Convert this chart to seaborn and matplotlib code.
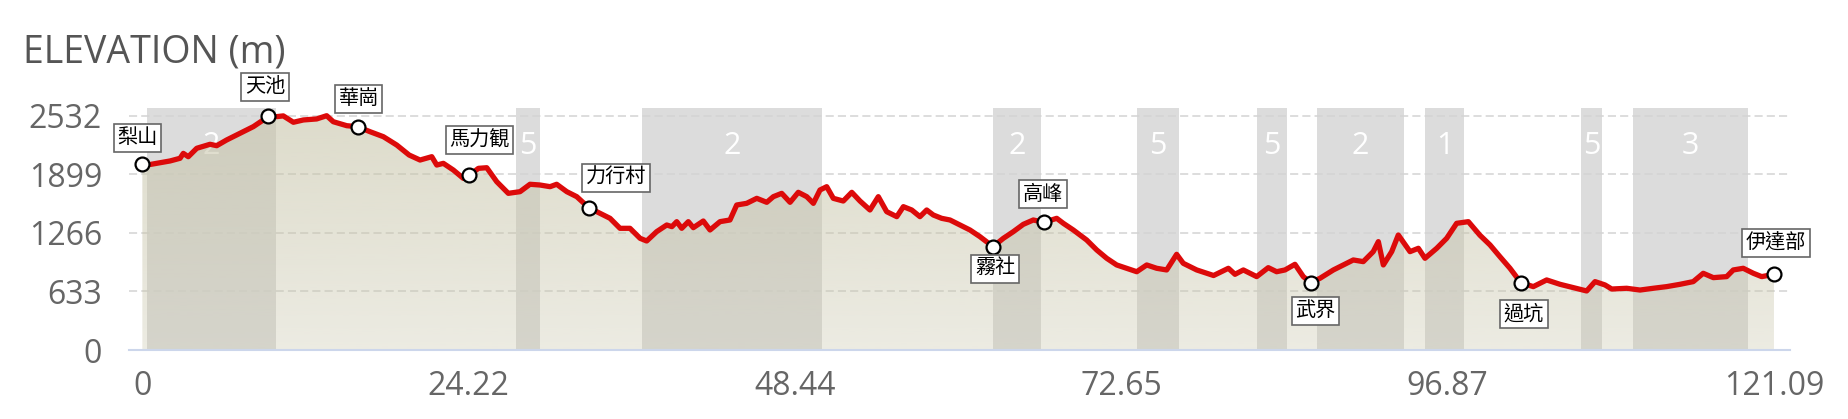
import numpy as np
import pandas as pd
import matplotlib
matplotlib.use("Agg")
import matplotlib.pyplot as plt
import seaborn as sns

# elevation profile (km, m)
km = [0.00, 1.07, 2.06, 2.80, 3.04, 3.41, 4.04, 5.02, 5.52, 6.26, 7.25, 8.24, 9.23, 9.33,
      9.97, 10.46, 11.21, 11.95, 12.94, 13.68, 14.17, 15.17, 15.98, 16.90, 17.89, 18.88,
      19.80, 20.61, 21.48, 21.85, 22.34, 23.08, 23.82, 24.27, 24.94, 25.56, 26.30, 27.16,
      28.03, 28.77, 29.51, 30.26, 30.75, 31.50, 32.24, 33.13, 33.97, 34.71, 35.45, 36.19,
      36.94, 37.43, 38.17, 38.92, 39.30, 39.66, 40.03, 40.52, 40.89, 41.63, 42.13, 42.87,
      43.61, 44.11, 44.85, 45.60, 46.34, 46.83, 47.45, 48.07, 48.68, 49.31, 49.80, 50.29,
      50.79, 51.28, 52.02, 52.65, 53.26, 54.00, 54.62, 55.24, 55.99, 56.48, 57.10, 57.71,
      58.21, 58.70, 59.32, 59.94, 60.68, 61.42, 62.16, 63.13, 63.90, 64.64, 65.38, 66.12,
      66.92, 67.86, 68.35, 69.09, 70.08, 70.83, 71.57, 72.31, 73.05, 73.80, 74.54, 75.28,
      76.02, 76.76, 77.25, 78.25, 78.99, 79.50, 80.60, 81.09, 81.71, 82.70, 83.56, 84.18,
      84.80, 85.54, 86.16, 86.71, 87.40, 88.39, 89.13, 89.87, 90.61, 91.35, 91.73, 92.10,
      92.72, 93.21, 94.08, 94.70, 95.19, 96.06, 96.80, 97.54, 98.41, 99.27, 100.02, 100.75,
      101.50, 102.30, 103.23, 104.22, 105.21, 106.20, 107.19, 107.81, 108.55, 109.05, 110.16,
      111.15, 112.13, 113.13, 114.12, 115.10, 115.84, 116.59, 117.58, 118.07, 118.81, 119.56,
      120.18, 121.09]
elev = [1990, 2017, 2043, 2072, 2125, 2089, 2180, 2223, 2208, 2270, 2342, 2414, 2511, 2532,
        2522, 2530, 2461, 2486, 2497, 2532, 2467, 2424, 2413, 2359, 2305, 2215,
        2107, 2053, 2089, 1999, 2017, 1945, 1855, 1888, 1963, 1970, 1819, 1693,
        1711, 1791, 1783, 1765, 1791, 1711, 1657, 1538, 1477, 1423, 1315, 1315,
        1207, 1178, 1279, 1351, 1333, 1387, 1315, 1387, 1322, 1394, 1297, 1387,
        1405, 1567, 1585, 1639, 1596, 1657, 1693, 1596, 1704, 1657, 1585, 1729,
        1765, 1639, 1610, 1704, 1610, 1513, 1657, 1495, 1441, 1549, 1513, 1441,
        1513, 1459, 1423, 1405, 1351, 1297, 1225, 1117, 1207, 1279, 1358, 1405,
        1380, 1423, 1369, 1297, 1189, 1081, 991, 919, 883, 846, 919, 883,
        865, 1034, 937, 865, 829, 805, 883, 818, 865, 793, 890, 846,
        865, 926, 793, 728, 775, 865, 919, 973, 955, 1063, 1171, 919,
        1063, 1243, 1063, 1099, 991, 1099, 1207, 1369, 1387, 1240, 1135, 1009,
        883, 728, 685, 757, 710, 674, 638, 739, 703, 659, 667,
        648, 667, 685, 710, 739, 829, 782, 793, 865, 883, 829,
        793, 818]

# named stops along the route
stop_names = ["梨山", "天池", "華崗", "馬力観", "力行村", "霧社", "高峰", "武界", "過坑", "伊達部"]
stop_km = [0.0, 9.33, 15.98, 24.27, 33.13, 63.13, 66.92, 86.71, 102.3, 121.09]
stop_elev = [2013, 2532, 2413, 1888, 1538, 1117, 1380, 728, 728, 818]
# label offsets in pixels from the marker
stop_dx = [-5, -3, 1, 10, 27, 2, -1, 5, 3, 2]
stop_dy = [26, 29, 28, 35, 30, -22, 28, -28, -31, 31]

# shaded sections
band_start = [0.35, 27.73, 37.1, 63.16, 73.84, 82.72, 87.18, 95.19, 106.8, 110.6]
band_end = [9.9, 29.49, 50.44, 66.67, 76.91, 84.95, 93.61, 98.09, 108.33, 119.2]
band_label = ["2", "5", "2", "2", "5", "5", "2", "1", "5", "3"]

xtick_vals = [0, 24.22, 48.44, 72.65, 96.87, 121.09]
xtick_labels = ["0", "24.22", "48.44", "72.65", "96.87", "121.09"]
ytick_vals = [0, 633, 1266, 1899, 2532]

df = pd.DataFrame({"km": km, "elev": elev})

sns.set_style("white")
plt.rcParams['font.family'] = ['Open Sans', 'Noto Sans CJK TC', 'DejaVu Sans']
cjk = ['Noto Sans CJK TC', 'DejaVu Sans']

fig = plt.figure(figsize=(18.48, 4.19), dpi=100)
ax = fig.add_axes([129/1848, 1-350/419, (1790-129)/1848, (350-108.3)/419])
xmin, xmax, ymax = -0.99, 122.28, 2612

for s, e, n in zip(band_start, band_end, band_label):
    ax.axvspan(s, e, color='#dcdcdc', lw=0, zorder=0.3)
    ax.text((s+e)/2, 2200, n, color='white', fontsize=22, ha='center', va='center', zorder=0.45)

# area under the profile, with a vertical gradient
area = ax.fill_between(df["km"], df["elev"], color='none', lw=0, zorder=2)
grad = np.zeros((256, 1, 4))
grad[:, 0, 0] = 200/255
grad[:, 0, 1] = 197/255
grad[:, 0, 2] = 170/255
grad[:, 0, 3] = np.linspace(0.34, 0.62, 256)
img = ax.imshow(grad, extent=[xmin, xmax, 0, ymax], origin='lower', aspect='auto', zorder=2)
img.set_clip_path(area.get_paths()[0], transform=ax.transData)

sns.lineplot(data=df, x="km", y="elev", color='#dc0a0a', lw=3.8, ax=ax, zorder=3)
ax.scatter(stop_km, stop_elev, s=100, facecolor='white', edgecolor='black', lw=1.6, zorder=4, clip_on=False)

for name, k, e, dx, dy in zip(stop_names, stop_km, stop_elev, stop_dx, stop_dy):
    ax.annotate(name, (k, e), xytext=(dx, dy), textcoords='offset pixels', ha='center', va='center',
                fontsize=14.5, family=cjk, color='black', zorder=5, annotation_clip=False,
                bbox=dict(boxstyle='square,pad=0.18', fc='white', ec='#666666', lw=1.2))

ax.set_xlim(xmin, xmax)
ax.set_ylim(0, ymax)
ax.set_xticks(xtick_vals)
ax.set_xticklabels(xtick_labels)
ax.set_yticks(ytick_vals)
ax.set_xlabel("")
ax.set_ylabel("")

ax.set_axisbelow(True)
ax.grid(axis='y', color='#d3d3d3', linestyle=(0, (5.3, 2.7)), lw=1.1)
ax.grid(axis='x', visible=False)
for side in ["top", "left", "right"]:
    ax.spines[side].set_visible(False)
ax.spines["bottom"].set_color('#ccd6eb')
ax.spines["bottom"].set_linewidth(1.5)

ax.tick_params(axis='x', length=10.8, width=1.5, color='#ccd6eb', pad=3.6, labelsize=23, labelcolor='#666666')
ax.tick_params(axis='y', length=0, pad=19.4, labelsize=23, labelcolor='#666666')

fig.text(22.7/1848, 1-62.7/419, "ELEVATION (m)", fontsize=27, color='#555555', va='baseline', ha='left')

fig.savefig("out.png", dpi=100)
